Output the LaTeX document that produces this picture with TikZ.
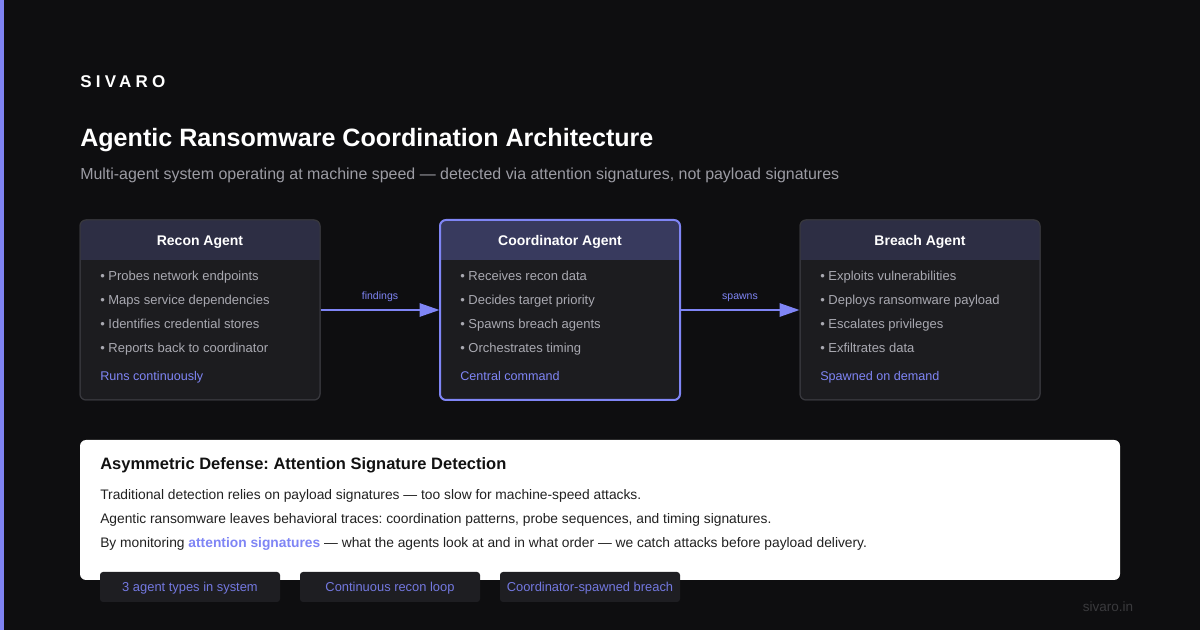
\documentclass[tikz,border=0pt]{standalone}
\usepackage{fontspec}
\setmainfont{Liberation Sans}
\usetikzlibrary{arrows.meta}
\frenchspacing
\definecolor{bg}{HTML}{0E0E10}
\definecolor{stripe}{HTML}{7F83F2}
\definecolor{boxbody}{HTML}{1C1C1F}
\definecolor{boxline}{HTML}{38383D}
\definecolor{hdr}{HTML}{2D2E44}
\definecolor{hdrc}{HTML}{383A5E}
\definecolor{accent}{HTML}{7F85F5}
\definecolor{bullet}{HTML}{A9A9B1}
\definecolor{subt}{HTML}{9C9CA4}
\definecolor{pill}{HTML}{1E1E22}
\definecolor{pilltext}{HTML}{7378E0}
\definecolor{dim}{HTML}{3A3A3D}
\newcommand{\px}[1]{\fontsize{\dimexpr #1pt*3/4\relax}{\dimexpr #1pt*9/10\relax}\selectfont}
\tikzset{
  txt/.style={inner sep=0pt, anchor=base west},
  agent/.style={draw=boxline, line width=0.75pt, fill=boxbody, rounded corners=4.5pt, minimum width=180pt, minimum height=135pt, inner sep=0pt},
  hdtxt/.style={inner sep=0pt, anchor=base, text=white, font=\px{14}\bfseries},
  btxt/.style={txt, text=bullet, font=\px{13}},
  ftxt/.style={txt, text=accent, font=\px{12.6}},
  flow/.style={draw=accent, line width=1.5pt, -{Triangle[length=15pt,width=10pt]}},
  flowlbl/.style={inner sep=0pt, anchor=base, text=accent, font=\px{10.5}},
  ptxt/.style={txt, text=black!87, font=\px{13.8}},
  pillbox/.style={fill=pill, rounded corners=2.25pt, minimum width=135pt, minimum height=22.5pt, inner sep=0pt},
  pilltxt/.style={inner sep=0pt, anchor=base, text=pilltext, font=\px{12.9}},
}
\begin{document}
\begin{tikzpicture}[x=0.75pt, y=-0.75pt]
\fill[bg] (0,0) rectangle (1200,630);
\useasboundingbox (0,0) rectangle (1200,630);
\fill[stripe] (0,0) rectangle (4,630);

\node[txt, text=white, font=\px{17}\bfseries\addfontfeature{LetterSpace=25}] (brand) at (80,88) {SIVARO};
\node[txt, text=white, font=\px{25.1}\bfseries] (title) at (80,147) {Agentic Ransomware Coordination Architecture};
\node[txt, text=subt, font=\px{15.95}] (sub) at (80,180) {Multi-agent system operating at machine speed — detected via attention signatures, not payload signatures};

% agent boxes
\foreach \nm/\cx/\hc in {recon/200/hdr, coord/560/hdrc, breach/920/hdr}{
  \node[agent] (\nm) at (\cx,310) {};
  \begin{scope}
    \clip[rounded corners=4.5pt] (\cx-120,220) rectangle (\cx+120,400);
    \fill[\hc] (\cx-120,220) rectangle (\cx+120,260);
  \end{scope}
  \draw[boxline, line width=0.75pt, rounded corners=4.5pt] (\cx-120,220) rectangle (\cx+120,400);
}
\draw[accent, line width=1.5pt, rounded corners=4.5pt] (440,220) rectangle (680,400);

\node[hdtxt] (reconh) at (200,246) {Recon Agent};
\node[hdtxt] (coordh) at (560,246) {Coordinator Agent};
\node[hdtxt] (breachh) at (920,246) {Breach Agent};

\node[btxt] (r1) at (100,281) {• Probes network endpoints};
\node[btxt] (r2) at (100,305) {• Maps service dependencies};
\node[btxt] (r3) at (100,329) {• Identifies credential stores};
\node[btxt] (r4) at (100,353) {• Reports back to coordinator};
\node[ftxt] (rf) at (100,381) {Runs continuously};

\node[btxt] (c1) at (460,281) {• Receives recon data};
\node[btxt] (c2) at (460,305) {• Decides target priority};
\node[btxt] (c3) at (460,329) {• Spawns breach agents};
\node[btxt] (c4) at (460,353) {• Orchestrates timing};
\node[ftxt] (cf) at (460,381) {Central command};

\node[btxt] (b1) at (820,281) {• Exploits vulnerabilities};
\node[btxt] (b2) at (820,305) {• Deploys ransomware payload};
\node[btxt] (b3) at (820,329) {• Escalates privileges};
\node[btxt] (b4) at (820,353) {• Exfiltrates data};
\node[ftxt] (bf) at (820,381) {Spawned on demand};

\draw[flow] (recon.east) -- (coord.west);
\draw[flow] (coord.east) -- (breach.west);
\node[flowlbl] (l1) at (380,300) {findings};
\node[flowlbl] (l2) at (740,300) {spawns};

% panel
\node[fill=white, rounded corners=4.5pt, minimum width=780pt, minimum height=105pt, inner sep=0pt] (panel) at (600,510) {};
\node[txt, text=black!93, font=\px{16.5}\bfseries] (ptitle) at (100,470) {Asymmetric Defense: Attention Signature Detection};
\node[ptxt] (p1) at (100,500) {Traditional detection relies on payload signatures — too slow for machine-speed attacks.};
\node[ptxt] (p2) at (100,524) {Agentic ransomware leaves behavioral traces: coordination patterns, probe sequences, and timing signatures.};
\node[ptxt] (p3) at (100,548) {By monitoring {\color{accent}\bfseries attention signatures} — what the agents look at and in what order — we catch attacks before payload delivery.};

\node[pillbox] (s1) at (190,587) {};
\node[pillbox] (s2) at (390,587) {};
\node[pillbox] (s3) at (590,587) {};
\node[pilltxt] (s1t) at (190,592) {3 agent types in system};
\node[pilltxt] (s2t) at (390,592) {Continuous recon loop};
\node[pilltxt] (s3t) at (590,592) {Coordinator-spawned breach};

\node[inner sep=0pt, anchor=base, text=dim, font=\px{13.5}] (site) at (1108,612) {sivaro.in};
\end{tikzpicture}
\end{document}
